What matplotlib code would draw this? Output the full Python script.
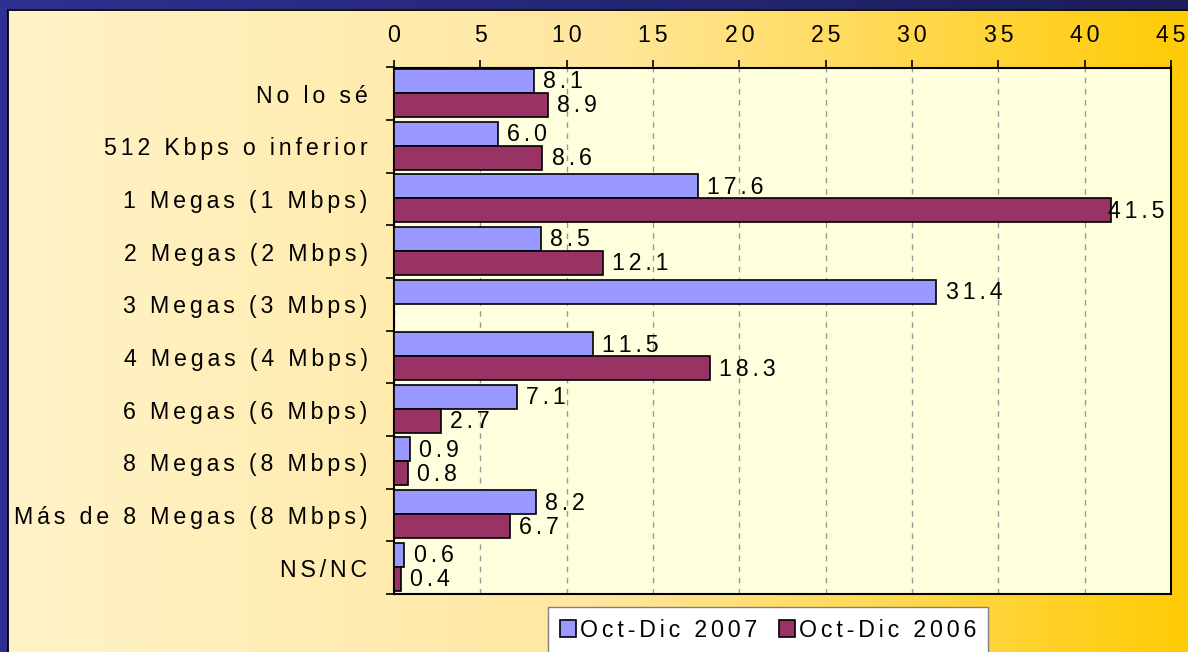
import matplotlib
matplotlib.use('Agg')
import matplotlib.pyplot as plt
import numpy as np
from matplotlib.colors import LinearSegmentedColormap
from matplotlib.patches import Rectangle
from matplotlib.lines import Line2D

plt.rcParams['font.family'] = ['Liberation Sans', 'DejaVu Sans']

categorias = ['No lo sé', '512 Kbps o inferior', '1 Megas (1 Mbps)', '2 Megas (2 Mbps)',
              '3 Megas (3 Mbps)', '4 Megas (4 Mbps)', '6 Megas (6 Mbps)', '8 Megas (8 Mbps)',
              'Más de 8 Megas (8 Mbps)', 'NS/NC']
oct_dic_2007 = [8.1, 6.0, 17.6, 8.5, 31.4, 11.5, 7.1, 0.9, 8.2, 0.6]
oct_dic_2006 = [8.9, 8.6, 41.5, 12.1, None, 18.3, 2.7, 0.8, 6.7, 0.4]
series = ['Oct-Dic 2007', 'Oct-Dic 2006']
x_ticks = [0, 5, 10, 15, 20, 25, 30, 35, 40, 45]

FS = 16.7


def sp(s):
    # espaciado entre letras como en el original
    return '\u2006'.join(s)


W, H = 1188, 652
fig = plt.figure(figsize=(W / 100, H / 100), dpi=100)

# fondo degradado
bg = fig.add_axes([0, 0, 1, 1], zorder=-10)
bg.set_xlim(0, 1)
bg.set_ylim(0, 1)
bg.axis('off')
grad = np.linspace(0, 1, 512).reshape(1, -1)
cm_bg = LinearSegmentedColormap.from_list('bg', ['#FFF3C9', '#FFE7A0', '#FFCB05'])
bg.imshow(grad, aspect='auto', cmap=cm_bg, extent=[0, 1, 0, 1])
cm_top = LinearSegmentedColormap.from_list('top', ['#2E3192', '#1C1D58'])
bg.imshow(grad, aspect='auto', cmap=cm_top, extent=[0, 1, 1 - 9.5 / H, 1])
bg.add_patch(Rectangle((0, 0), 7.5 / W, 1, color='#2E3192', lw=0))
bg.add_line(Line2D([7.5 / W, 1], [1 - 9.5 / H] * 2, color='black', lw=1.3))
bg.add_line(Line2D([7.5 / W] * 2, [0, 1 - 9.5 / H], color='black', lw=1.3))

# area del grafico
ax = fig.add_axes([394 / W, 1 - 594 / H, (1171 - 394) / W, (594 - 67.5) / H])
ax.set_facecolor('#FFFFDD')
y = np.arange(len(categorias))
h = 0.455

i07 = [i for i, v in enumerate(oct_dic_2007) if v is not None]
i06 = [i for i, v in enumerate(oct_dic_2006) if v is not None]
b1 = ax.barh(y[i07] - 0.245, [oct_dic_2007[i] for i in i07], height=h,
             color='#9999FF', edgecolor='black', linewidth=1.2, zorder=3)
b2 = ax.barh(y[i06] + 0.21, [oct_dic_2006[i] for i in i06], height=h,
             color='#993366', edgecolor='black', linewidth=1.2, zorder=3)

ax.set_xlim(0, 45)
ax.set_ylim(len(categorias) - 0.5, -0.5)

ax.xaxis.tick_top()
ax.set_xticks(x_ticks)
ax.set_xticklabels([sp(str(t)) for t in x_ticks], fontsize=FS)
ax.tick_params(axis='x', direction='out', length=6, width=1.2, pad=9)

ax.set_yticks(np.arange(len(categorias) + 1) - 0.5)
ax.set_yticklabels([])
ax.set_yticks(y, minor=True)
ax.set_yticklabels([sp(c) for c in categorias], minor=True, fontsize=FS)
ax.tick_params(axis='y', which='major', direction='out', length=6, width=1.2)
ax.tick_params(axis='y', which='minor', length=0, pad=19)

ax.grid(axis='x', linestyle=(0, (4, 4)), color='#999999', linewidth=1)
ax.set_axisbelow(True)
for s in ax.spines.values():
    s.set_linewidth(1.5)
    s.set_color('black')

labels = []
for yy, vals, idx in [(y - 0.245, oct_dic_2007, i07), (y + 0.21, oct_dic_2006, i06)]:
    for i in idx:
        v = vals[i]
        t = ax.text(v + 0.55, yy[i] + 0.02, sp(f'{v:.1f}'), va='center', ha='left',
                    fontsize=FS, zorder=4)
        labels.append(t)

# etiquetas que se salen del area se desplazan a la izquierda
fig.canvas.draw()
r = fig.canvas.get_renderer()
ax_right = ax.get_window_extent(r).x1
for t in labels:
    bb = t.get_window_extent(r)
    if bb.x1 > ax_right - 4:
        x0, y0 = t.get_position()
        shift = ax.transData.inverted().transform((bb.x1 - ax_right + 6, 0))[0] - \
            ax.transData.inverted().transform((0, 0))[0]
        t.set_position((x0 - shift, y0))

fig.legend([b1, b2], [sp(s) for s in series], loc='upper left',
           bbox_to_anchor=(548 / W, 1 - 607 / H), ncol=2, frameon=True, fancybox=False,
           edgecolor='#808080', facecolor='white', framealpha=1, handlelength=0.7,
           handleheight=0.7, handletextpad=0.2, columnspacing=0.9, borderpad=0.5,
           borderaxespad=0, fontsize=FS)

fig.savefig('out.png', dpi=100)
